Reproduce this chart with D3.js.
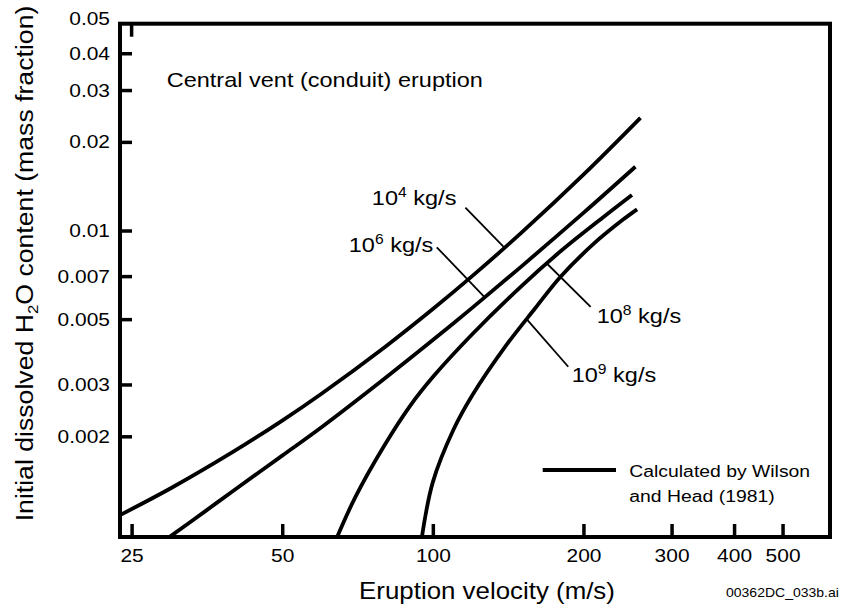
<!DOCTYPE html>
<html>
<head>
<meta charset="utf-8">
<script src="https://cdn.jsdelivr.net/npm/d3@7"></script>
<style>
  html, body { margin: 0; padding: 0; background: #fff; }
  svg { display: block; font-family: "Liberation Sans", Arial, Helvetica, sans-serif; }
</style>
</head>
<body>
<svg id="chart" width="842" height="606"></svg>
<script>
// Mass eruption rate exponents (10^n kg/s), one curve each
const rateExponents = ["4", "6", "8", "9"];

// Eruption velocity (m/s) against initial dissolved H2O (mass fraction)
const velocity1e4 = [23.7, 30, 40, 50, 60, 80, 100, 120, 150, 200, 260];
const water1e4    = [0.00108, 0.001335, 0.001777, 0.002262, 0.002796, 0.004007, 0.005412, 0.007012, 0.009797, 0.01548, 0.02414];

const velocity1e6 = [29.5, 35, 40, 50, 60, 80, 100, 120, 150, 200, 254];
const water1e6    = [0.0009, 0.00111, 0.00131, 0.00172, 0.002152, 0.003138, 0.004246, 0.005472, 0.007527, 0.01148, 0.01647];

const velocity1e8 = [64.2, 70, 80, 90, 100, 120, 150, 180, 220, 250];
const water1e8    = [0.0009, 0.001243, 0.001861, 0.002534, 0.003179, 0.004451, 0.006452, 0.0085, 0.01116, 0.0132];

const velocity1e9 = [95, 100, 110, 120, 140, 160, 180, 210, 240, 256];
const water1e9    = [0.0009, 0.001398, 0.002109, 0.002762, 0.004064, 0.005433, 0.006966, 0.009038, 0.01089, 0.0118];

// Velocity at which each label's leader line touches its curve
const labelVelocity = [139, 127, 169, 154];

// Axis ticks
const xTicks = [25, 50, 100, 200, 300, 400, 500];
const yTicks = [0.002, 0.003, 0.005, 0.007, 0.01, 0.02, 0.03, 0.04, 0.05];
const yTickLabels = ["0.002", "0.003", "0.005", "0.007", "0.01", "0.02", "0.03", "0.04", "0.05"];

const title = "Central vent (conduit) eruption";
const legendLines = ["Calculated by Wilson", "and Head (1981)"];
const fileTag = "00362DC_033b.ai";

// ---------------------------------------------------------------
const series = [
  { v: velocity1e4, w: water1e4 },
  { v: velocity1e6, w: water1e6 },
  { v: velocity1e8, w: water1e8 },
  { v: velocity1e9, w: water1e9 }
];

const SX = 1.12;           // horizontal text scale used throughout
const svg = d3.select("#chart");
const plot = { left: 120, right: 830, top: 23.7, bottom: 537 };

const x = d3.scaleLog().domain([23.7, 622]).range([plot.left, plot.right]);
const y = d3.scaleLog().domain([0.00091, 0.0504]).range([plot.bottom, plot.top]);

function stretchedText(parent, px, py, anchor, size) {
  return parent.append("text")
    .attr("transform", `translate(${px},${py}) scale(${SX},1)`)
    .attr("text-anchor", anchor)
    .attr("font-size", size)
    .attr("fill", "#000");
}

// Curves, clipped to the frame
svg.append("clipPath").attr("id", "plotClip")
  .append("rect")
  .attr("x", plot.left).attr("y", plot.top)
  .attr("width", plot.right - plot.left).attr("height", plot.bottom - plot.top);

const line = d3.line()
  .x(d => x(d[0]))
  .y(d => y(d[1]))
  .curve(d3.curveCatmullRom.alpha(0.5));

svg.append("g").attr("clip-path", "url(#plotClip)")
  .selectAll("path")
  .data(series)
  .join("path")
  .attr("d", s => line(s.v.map((v, i) => [v, s.w[i]])))
  .attr("fill", "none")
  .attr("stroke", "#000")
  .attr("stroke-width", 3.8)
  .attr("stroke-linecap", "butt");

// Axes with inward ticks
const xAxis = d3.axisBottom(x)
  .tickValues(xTicks)
  .tickFormat(d3.format("d"))
  .tickSizeInner(-13).tickSizeOuter(0).tickPadding(12);

const gx = svg.append("g").attr("transform", `translate(0,${plot.bottom})`).call(xAxis);
gx.select(".domain").remove();
gx.selectAll(".tick line").attr("stroke", "#000").attr("stroke-width", 3.5);
gx.selectAll(".tick text")
  .attr("font-size", 18.7).attr("font-family", null).attr("fill", "#000")
  .attr("transform", `scale(${SX},1)`);

const yAxis = d3.axisLeft(y)
  .tickValues(yTicks)
  .tickFormat((d, i) => yTickLabels[i])
  .tickSizeInner(-12).tickSizeOuter(0).tickPadding(10);

const gy = svg.append("g").attr("transform", `translate(${plot.left},0)`).call(yAxis);
gy.select(".domain").remove();
gy.selectAll(".tick line").attr("stroke", "#000").attr("stroke-width", 3.5);
gy.selectAll(".tick text")
  .attr("font-size", 18.7).attr("font-family", null).attr("fill", "#000")
  .attr("x", -10 / SX)
  .attr("transform", `scale(${SX},1)`);
// the top value sits on the frame, so its label is lifted clear of it
const topTick = gy.selectAll(".tick").filter(d => d === 0.05);
topTick.select("line").remove();
topTick.select("text").attr("y", -6);

// Single tick on the top edge at 25 m/s
svg.append("line")
  .attr("x1", x(25)).attr("x2", x(25))
  .attr("y1", plot.top).attr("y2", plot.top + 13)
  .attr("stroke", "#000").attr("stroke-width", 3.5);

// Frame
svg.append("rect")
  .attr("x", plot.left).attr("y", plot.top)
  .attr("width", plot.right - plot.left).attr("height", plot.bottom - plot.top)
  .attr("fill", "none").attr("stroke", "#000").attr("stroke-width", 4);

// Curve labels with leader lines
function pointOnCurve(s, v) {
  const lv = Math.log10(v);
  for (let i = 0; i < s.v.length - 1; i++) {
    const a = Math.log10(s.v[i]), b = Math.log10(s.v[i + 1]);
    if (lv >= a && lv <= b) {
      const t = (lv - a) / (b - a);
      const ya = y(s.w[i]), yb = y(s.w[i + 1]);
      return [x(v), ya + t * (yb - ya)];
    }
  }
  return [x(v), y(s.w[s.w.length - 1])];
}

const leaderLayout = [
  { dx: -39, dy: -40, tx: -48,  ty: -43, anchor: "end" },
  { dx: -48, dy: -50, tx: -51.5, ty: -45.6, anchor: "end" },
  { dx: 43.8, dy: 43.3, tx: 49.8, ty: 60, anchor: "start" },
  { dx: 41.6, dy: 47.6, tx: 45, ty: 62.6, anchor: "start" }
];

const labels = svg.append("g");
series.forEach((s, i) => {
  const [ax, ay] = pointOnCurve(s, labelVelocity[i]);
  const L = leaderLayout[i];
  labels.append("line")
    .attr("x1", ax).attr("y1", ay)
    .attr("x2", ax + L.dx).attr("y2", ay + L.dy)
    .attr("stroke", "#000").attr("stroke-width", 1.8);
  const t = stretchedText(labels, ax + L.tx, ay + L.ty, L.anchor, 21);
  t.append("tspan").text("10");
  t.append("tspan").attr("dy", -8).attr("font-size", 14).text(rateExponents[i]);
  t.append("tspan").attr("dy", 8).text(" kg/s");
});

// Title inside the frame
stretchedText(svg, 166.7, 86.7, "start", 21).text(title);

// Legend
svg.append("line")
  .attr("x1", 542.7).attr("x2", 616).attr("y1", 470).attr("y2", 470)
  .attr("stroke", "#000").attr("stroke-width", 4);
legendLines.forEach((txt, i) => {
  stretchedText(svg, 629.3, 477 + i * 24.7, "start", 17.3).text(txt);
});

// Axis titles
stretchedText(svg, 487, 599, "middle", 23.1).text("Eruption velocity (m/s)");

const yt = svg.append("text")
  .attr("transform", `translate(33,263.5) rotate(-90) scale(${SX},1)`)
  .attr("text-anchor", "middle")
  .attr("font-size", 23.8)
  .attr("fill", "#000");
yt.append("tspan").text("Initial dissolved H");
yt.append("tspan").attr("dy", 5).attr("font-size", 15).text("2");
yt.append("tspan").attr("dy", -5).text("O content (mass fraction)");

// File tag
stretchedText(svg, 726, 596.7, "start", 12.5).text(fileTag);
</script>
</body>
</html>
